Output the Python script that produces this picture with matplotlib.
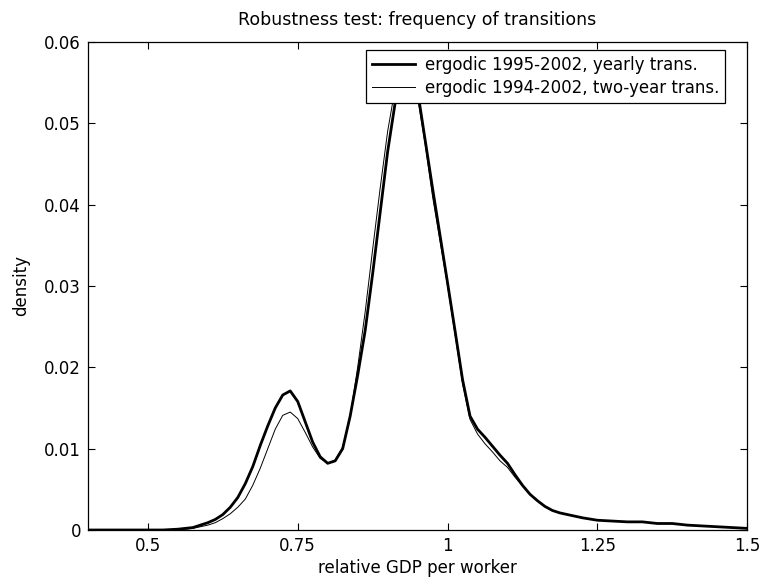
import numpy as np
import matplotlib
matplotlib.use("Agg")
import matplotlib.pyplot as plt

plt.rcParams.update({
    "font.family": ["DejaVu Sans"], "font.size": 12,
    "xtick.direction": "in", "ytick.direction": "in",
    "xtick.top": True, "ytick.right": True,
    "xtick.major.size": 5, "ytick.major.size": 5,
    "xtick.major.pad": 5, "ytick.major.pad": 5,
    "axes.linewidth": 0.9,
})

# grid of relative GDP per worker
gdp = [0.40, 0.45, 0.50, 0.525, 0.55, 0.5625, 0.575, 0.5875, 0.60, 0.6125, 0.625, 0.6375,
       0.65, 0.6625, 0.675, 0.6875, 0.70, 0.7125, 0.725, 0.7375, 0.75, 0.7625, 0.775, 0.7875,
       0.80, 0.8125, 0.825, 0.8375, 0.85, 0.8625, 0.875, 0.8875, 0.90, 0.9125, 0.925, 0.9375,
       0.95, 0.9625, 0.975, 0.9875, 1.0, 1.0125, 1.025, 1.0375, 1.05, 1.0625, 1.075, 1.0875,
       1.10, 1.1125, 1.125, 1.1375, 1.15, 1.1625, 1.175, 1.1875, 1.20, 1.225, 1.25, 1.275,
       1.30, 1.325, 1.35, 1.375, 1.40, 1.425, 1.45, 1.475, 1.50]

# ergodic density, 1995-2002 yearly transitions
yearly = [0.0, 0.0, 0.0, 0.0, 0.0001, 0.0002, 0.0003, 0.0006, 0.0009, 0.0013, 0.0019, 0.0028,
          0.0040, 0.0057, 0.0078, 0.0104, 0.0128, 0.0150, 0.0166, 0.0171, 0.0158, 0.0133, 0.0108, 0.0090,
          0.0082, 0.0085, 0.0100, 0.0140, 0.0190, 0.0245, 0.0315, 0.0390, 0.0465, 0.0525, 0.0560, 0.0568,
          0.0540, 0.0480, 0.0420, 0.0362, 0.0304, 0.0245, 0.0185, 0.0140, 0.0124, 0.0114, 0.0103, 0.0092,
          0.0082, 0.0068, 0.0055, 0.0044, 0.0036, 0.0029, 0.0024, 0.0021, 0.0019, 0.0015, 0.0012, 0.0011,
          0.0010, 0.0010, 0.0008, 0.0008, 0.0006, 0.0005, 0.0004, 0.0003, 0.0002]

# ergodic density, 1994-2002 two-year transitions
twoyear = [0.0, 0.0, 0.0, 0.0, 0.0001, 0.0001, 0.0002, 0.0004, 0.0006, 0.0009, 0.0014, 0.0020,
           0.0028, 0.0038, 0.0055, 0.0076, 0.0100, 0.0124, 0.0141, 0.0145, 0.0137, 0.0120, 0.0102, 0.0088,
           0.0082, 0.0086, 0.0102, 0.0140, 0.0200, 0.0268, 0.0345, 0.0420, 0.0490, 0.0543, 0.0566, 0.0562,
           0.0532, 0.0475, 0.0410, 0.0355, 0.0300, 0.0240, 0.0180, 0.0136, 0.0118, 0.0106, 0.0096, 0.0085,
           0.0077, 0.0065, 0.0054, 0.0044, 0.0036, 0.0029, 0.0024, 0.0021, 0.0019, 0.0015, 0.0012, 0.0011,
           0.0010, 0.0010, 0.0008, 0.0008, 0.0006, 0.0005, 0.0004, 0.0003, 0.0002]

xticks = [0.5, 0.75, 1, 1.25, 1.5]
xticklabels = ["0.5", "0.75", "1", "1.25", "1.5"]
yticks = [0, 0.01, 0.02, 0.03, 0.04, 0.05, 0.06]
yticklabels = ["0", "0.01", "0.02", "0.03", "0.04", "0.05", "0.06"]

fig = plt.figure(figsize=(7.63, 5.80), dpi=100)
ax = fig.add_axes([0.1153, 0.0862, 0.864, 0.8414])
ax.plot(gdp, yearly, color="black", lw=2.0, label="ergodic 1995-2002, yearly trans.")
ax.plot(gdp, twoyear, color="black", lw=0.7, label="ergodic 1994-2002, two-year trans.")
ax.set_xlim(0.4, 1.5); ax.set_ylim(0, 0.06)
ax.set_xticks(xticks); ax.set_xticklabels(xticklabels)
ax.set_yticks(yticks); ax.set_yticklabels(yticklabels)
ax.tick_params(labelsize=12, width=0.8)
ax.set_xlabel("relative GDP per worker", labelpad=3)
ax.set_ylabel("density", labelpad=10)
ax.set_title("Robustness test: frequency of transitions", fontsize=12.5, pad=12)
leg = ax.legend(loc="upper right", bbox_to_anchor=(0.9666, 0.9836), fancybox=False,
                framealpha=1, edgecolor="black", borderpad=0.35, labelspacing=0.33,
                handlelength=2.6, handletextpad=0.6, borderaxespad=0, fontsize=12)
leg.get_frame().set_linewidth(0.9)
fig.savefig("out.png", dpi=100)
